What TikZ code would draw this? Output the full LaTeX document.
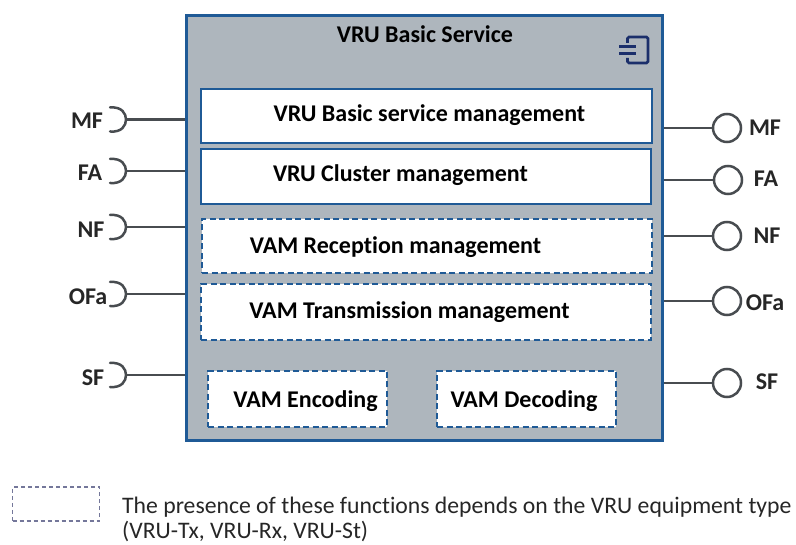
\documentclass[tikz,border=0pt]{standalone}
\usepackage{fontspec}
\usetikzlibrary{calc}
\setmainfont[Ligatures=NoCommon]{Carlito}
\definecolor{bluebd}{HTML}{1F5A96}
\definecolor{panelgrey}{HTML}{AEB6BD}
\definecolor{linegrey}{HTML}{484C50}
\definecolor{navy}{HTML}{1B2F6B}
\definecolor{legendline}{HTML}{74779A}
\begin{document}
\begin{tikzpicture}[x=1pt,y=-1pt,
  solidbox/.style={draw=bluebd,line width=2pt,fill=white,rectangle,inner sep=0pt},
  dashbox/.style={solidbox,dash pattern=on 6pt off 3.5pt},
  lab/.style={font=\bfseries\fontsize{24}{26}\selectfont,text=black,inner sep=0pt,anchor=base},
  iflab/.style={font=\bfseries\fontsize{24}{26}\selectfont,text=black!85,inner sep=0pt},
  conn/.style={draw=linegrey,line width=2.5pt},
  sock/.style={draw=linegrey,line width=2.5pt,line cap=round},
  lolli/.style={circle,draw=linegrey,line width=2.5pt,minimum size=28pt,inner sep=0pt,fill=white},
  legendbox/.style={draw=legendline,line width=1.3pt,dash pattern=on 4pt off 3pt,rectangle,inner sep=0pt},
  legtext/.style={inner sep=0pt,anchor=base west,text=black!85,font=\fontsize{23.7}{26}\selectfont}]
\useasboundingbox (0,0) rectangle (796,545);
\node[solidbox,line width=3pt,fill=panelgrey,minimum width=476pt,minimum height=425pt] (main) at (424,228.5) {};
\node[lab] (title) at (425,43) {VRU Basic Service};
% component icon
\draw[navy,line width=2.6pt,rounded corners=1.5pt] (627.5,43) -- (627.5,37) -- (648,37) -- (648,63) -- (627.5,63) -- (627.5,58);
\draw[navy,line width=3pt] (619,47) -- (636,47) (619,54) -- (636,54);
\node[solidbox,minimum width=451pt,minimum height=54pt] (b1) at (426.5,116) {};
\node[solidbox,minimum width=450pt,minimum height=55pt] (b2) at (426,176.5) {};
\node[dashbox,minimum width=450pt,minimum height=54pt] (b3) at (427,246) {};
\node[dashbox,minimum width=450pt,minimum height=56pt] (b4) at (426,312) {};
\node[dashbox,minimum width=179pt,minimum height=56pt] (b5) at (297.5,399) {};
\node[dashbox,minimum width=179pt,minimum height=56pt] (b6) at (526.5,399) {};
\node[lab] (t1) at (429.5,122) {VRU Basic service management};
\node[lab] (t2) at (400.5,182) {VRU Cluster management};
\node[lab] (t3) at (395.5,254) {VAM Reception management};
\node[lab] (t4) at (409.5,319) {VAM Transmission management};
\node[lab] (t5) at (305.5,408) {VAM Encoding};
\node[lab] (t6) at (524,408) {VAM Decoding};
% left required interfaces
\foreach \n/\t/\y/\lx/\ly in {mf/MF/119.5/87/121,fa/FA/171/90/173,nf/NF/227/91/230,ofa/OFa/294/88/297,sf/SF/375/93/378}{
  \coordinate (l\n) at (126,\y);
  \coordinate (m\n) at (main.west |- l\n);
  \draw[conn] (m\n) -- (l\n);
  \draw[sock] ($(l\n)+(-16,-12)$) .. controls ($(l\n)+(-4,-13)$) and ($(l\n)+(0,-6)$) .. (l\n)
     .. controls ($(l\n)+(0,6)$) and ($(l\n)+(-4,13)$) .. ($(l\n)+(-16,12)$);
  \node[iflab] (t\n) at (\lx,\ly) {\t};
}
% right provided interfaces
\foreach \n/\t/\y/\cx/\lx/\ly in {mf/MF/128/727/765/128,fa/FA/180/728/766/179,nf/NF/236/727/767/236,ofa/OFa/301/727/765/303,sf/SF/383/727/767/382}{
  \node[lolli] (c\n) at (\cx,\y) {};
  \coordinate (e\n) at (main.east |- c\n);
  \draw[conn] (e\n) -- (c\n.west);
  \node[iflab] (r\n) at (\lx,\ly) {\t};
}
% legend
\node[legendbox,minimum width=87pt,minimum height=34pt] (leg) at (56,504) {};
\node[legtext] (lt1) at (122,513) {The presence of these functions depends on the VRU equipment type};
\node[legtext] (lt2) at (122,538.5) {(VRU-Tx, VRU-Rx, VRU-St)};
\end{tikzpicture}
\end{document}
